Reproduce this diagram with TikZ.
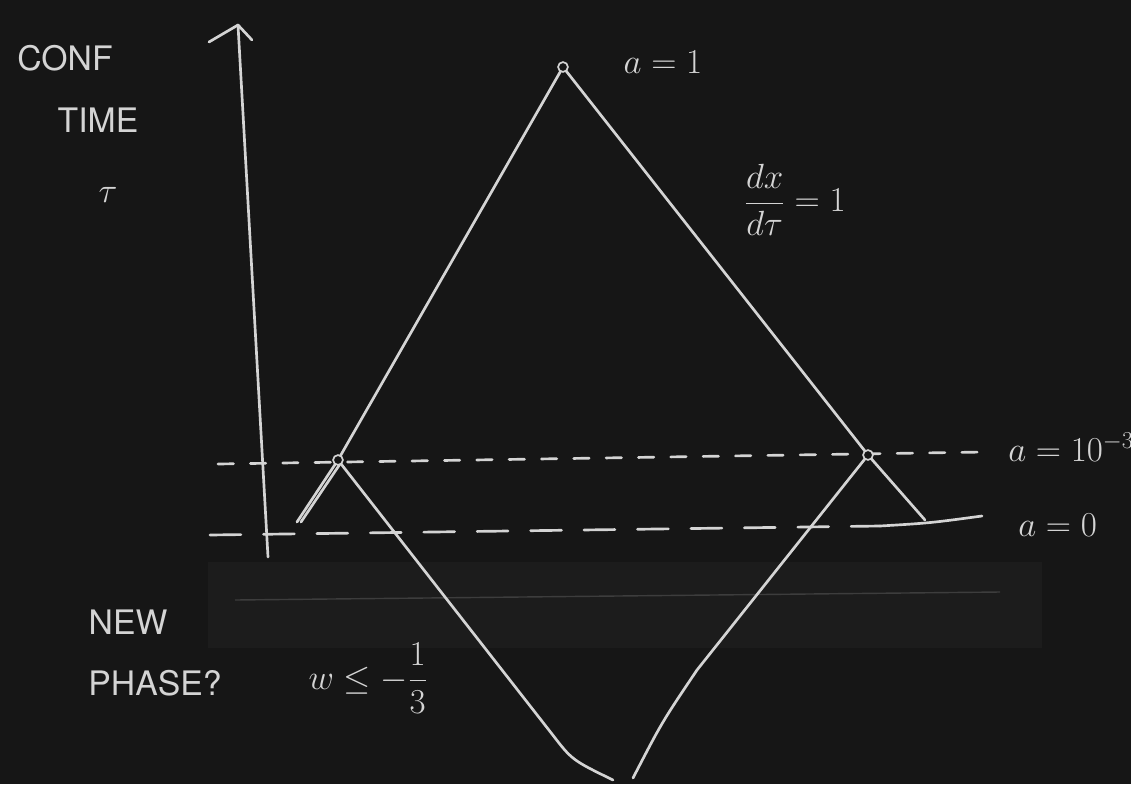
\documentclass[tikz,border=0pt]{standalone}
\usepackage{amsmath}
\usepackage{fontspec}
\setsansfont{TeX Gyre Heros}
\definecolor{board}{RGB}{22,22,22}
\definecolor{chalk}{RGB}{212,212,212}
\definecolor{tray}{RGB}{28,28,28}
\tikzset{
  chalkline/.style={draw=chalk, line width=1.9pt, line cap=round, line join=round},
  dashA/.style={chalkline, dash pattern=on 11pt off 12pt},
  dashB/.style={chalkline, dash pattern=on 22pt off 16pt},
  lbl/.style={text=chalk, font=\sffamily\fontsize{24}{26}\selectfont, inner sep=0pt},
  mlbl/.style={text=chalk, font=\fontsize{26}{28}\selectfont, inner sep=0pt},
  dot/.style={circle, draw=chalk, fill=board, line width=1.2pt, inner sep=0pt, minimum size=7pt}
}
\begin{document}
\begin{tikzpicture}[x=0.025cm, y=-0.025cm]
\useasboundingbox (0,0) rectangle (1131,784);
\fill[board] (0,0) rectangle (1131,784);
% chalk tray / smudge region
\fill[tray] (208,562) rectangle (1042,648);
\draw[color=chalk, line width=1pt, opacity=0.18] (235,600) -- (1000,592);

% coordinates
\coordinate (axb) at (268,557);
\coordinate (axt) at (238,25);
\coordinate (axl) at (209,42);
\coordinate (axr) at (252,40);
\coordinate (apex) at (563,67);
\coordinate (L) at (338,460);
\coordinate (R) at (868,455);
\coordinate (Lend) at (297,522);
\coordinate (Rend) at (925,520);
\coordinate (Lmid) at (552,734);
\coordinate (Lbot) at (613,780);
\coordinate (Rmid) at (697,670);
\coordinate (Rbot) at (633,778);

% time axis
\draw[chalkline] (axb) -- (axt);
\draw[chalkline] (axl) -- (axt) -- (axr);

% dashed horizontal lines
\draw[dashA] (218,464) -- (985,452);
\draw[dashB] (210,535) -- (880,526);
\draw[chalkline] (880,526) .. controls (930,523) .. (982,516);

% light cone lines
\draw[chalkline] (apex) -- (L) -- (Lend);
\draw[chalkline] (L) ++(2,4) -- (301,522);
\draw[chalkline] (apex) -- (R) -- (Rend);
\draw[chalkline] (L) -- (Lmid) .. controls (572,760) .. (Lbot);
\draw[chalkline] (R) -- (Rmid) .. controls (662,722) .. (Rbot);

% dots
\node[dot] (napex) at (apex) {};
\node[dot] (nL) at (L) {};
\node[dot] (nR) at (R) {};

% labels
\node[lbl] (conf) at (65,58) {CONF};
\node[lbl] (time) at (98,120) {TIME};
\node[mlbl] (tau) at (108,195) {$\tau$};
\node[mlbl] (a1) at (663,62) {$a = 1$};
\node[mlbl] (dxdt) at (795,200) {$\dfrac{dx}{d\tau} = 1$};
\node[mlbl, anchor=west] (a3) at (1008,447) {$a = 10^{-3}$};
\node[mlbl, anchor=west] (a0) at (1018,525) {$a = 0$};
\node[lbl] (new) at (128,622) {NEW};
\node[lbl] (phase) at (155,683) {PHASE?};
\node[mlbl] (w) at (368,678) {$w \leq -\dfrac{1}{3}$};
\end{tikzpicture}
\end{document}
